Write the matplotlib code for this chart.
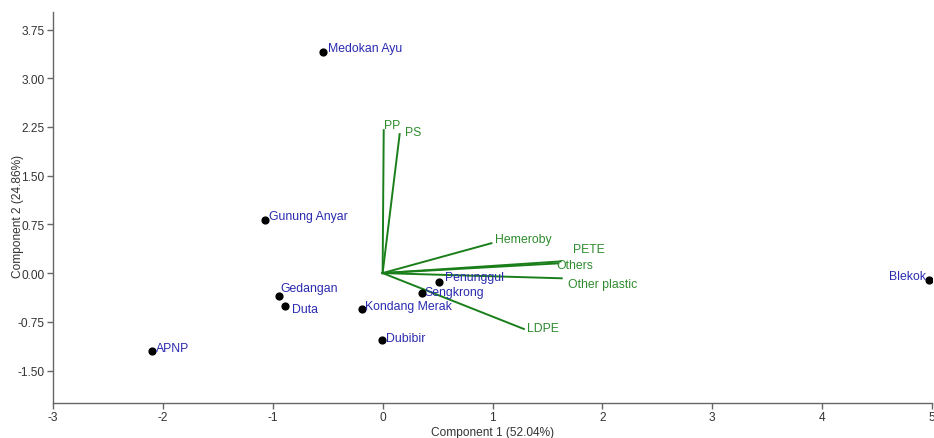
import numpy as np
import matplotlib
matplotlib.use("Agg")
import matplotlib.pyplot as plt
from matplotlib.ticker import FormatStrFormatter

plt.rcParams["font.family"] = ["Liberation Sans", "DejaVu Sans"]
plt.rcParams["axes.unicode_minus"] = False

# ---------------------------------------------------------------
# PCA scores (sites) and loadings (variables)
# ---------------------------------------------------------------
sites = ["Medokan Ayu", "Gunung Anyar", "Gedangan", "Duta", "APNP",
         "Kondang Merak", "Dubibir", "Sengkrong", "Penunggul", "Blekok"]
site_x = [-0.54, -1.07, -0.94, -0.89, -2.10, -0.19, -0.01, 0.355, 0.51, 4.97]
site_y = [3.41, 0.82, -0.36, -0.51, -1.20, -0.55, -1.03, -0.31, -0.13, -0.10]

variables = ["PP", "PS", "Hemeroby", "PETE", "Others", "Other plastic", "LDPE"]
var_x = [0.01, 0.155, 0.99, 1.62, 1.60, 1.63, 1.285]
var_y = [2.20, 2.14, 0.46, 0.18, 0.15, -0.08, -0.86]

x_ticks = [-3, -2, -1, 0, 1, 2, 3, 4, 5]
y_ticks = [-1.50, -0.75, 0.00, 0.75, 1.50, 2.25, 3.00, 3.75]

# label offsets in pixels (dx, dy; dy positive = up)
site_offsets = [(5, 4), (4, 4), (1, 8), (7, -3), (4, 3),
                (3, 3), (4, 2), (3, 1), (6, 5), (-3, 4)]
var_offsets = [(0, 5), (5, 2), (4, 4), (12, 12), (-2, -2), (6, -6), (3, 1)]

SITE_COLOR = "#2a2ab0"
VAR_COLOR = "#2e8b2e"
LINE_COLOR = "#1a7f1a"
AXIS_COLOR = "#666666"

W, H = 934, 439
fig = plt.figure(figsize=(W / 100, H / 100), dpi=100)
ax = fig.add_axes([53 / W, (H - 404) / H, (932 - 53) / W, (404 - 13) / H])

# loading vectors
for name, vx, vy, (dx, dy) in zip(variables, var_x, var_y, var_offsets):
    ax.plot([0, vx], [0, vy], color=LINE_COLOR, lw=1.4, zorder=2)
    ax.annotate(name, (vx, vy), xytext=(dx, dy), textcoords="offset pixels",
                ha="left", va="center", fontsize=8.8, color=VAR_COLOR, zorder=4)

# site scores
ax.scatter(site_x, site_y, s=24, color="black", zorder=3)
for name, sx, sy, (dx, dy) in zip(sites, site_x, site_y, site_offsets):
    ha = "right" if dx < 0 else "left"
    ax.annotate(name, (sx, sy), xytext=(dx, dy), textcoords="offset pixels",
                ha=ha, va="center", fontsize=8.8, color=SITE_COLOR, zorder=4)

ax.set_xlim(-3, 5)
ax.set_ylim(-2.0, 4.02)
ax.set_xticks(x_ticks)
ax.set_yticks(y_ticks)
ax.yaxis.set_major_formatter(FormatStrFormatter("%.2f"))

for side in ["top", "right"]:
    ax.spines[side].set_visible(False)
for side in ["left", "bottom"]:
    ax.spines[side].set_color(AXIS_COLOR)
    ax.spines[side].set_linewidth(1.0)
ax.tick_params(direction="out", length=4, width=1.0, color=AXIS_COLOR,
               labelsize=8.6, labelcolor="#333333", pad=2)

ax.set_xlabel("Component 1 (52.04%)", fontsize=8.6, color="#333333", labelpad=2)
ax.set_ylabel("Component 2 (24.86%)", fontsize=8.6, color="#333333")
ax.yaxis.set_label_coords(-28.5 / 879, 0.48)

fig.savefig("out.png", dpi=100)
